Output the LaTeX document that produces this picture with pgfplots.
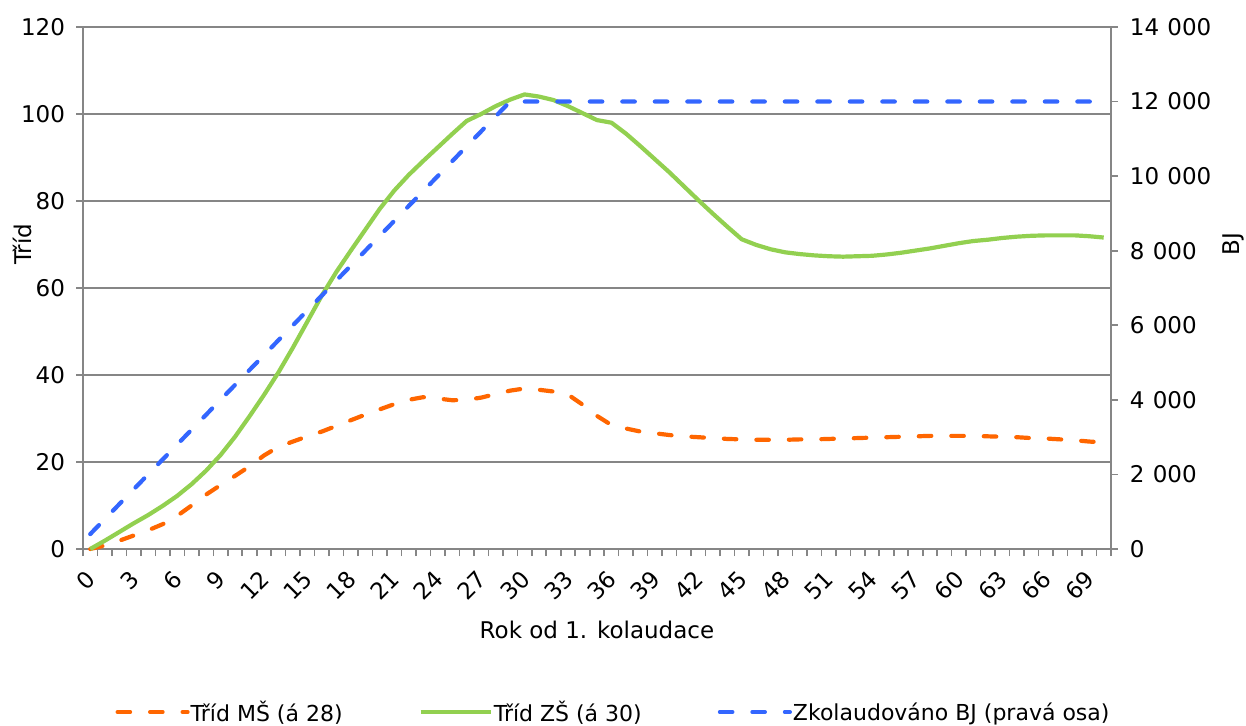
\documentclass[border=0pt]{standalone}
\usepackage{fontspec}
\setmainfont{DejaVu Sans}
\usepackage{pgfplots}
\pgfplotsset{compat=1.18}
\usepackage{pgfplotstable}
\definecolor{cMS}{RGB}{255,102,0}
\definecolor{cZS}{RGB}{146,208,80}
\definecolor{cBJ}{RGB}{51,102,255}
\definecolor{cGrid}{RGB}{134,134,134}

\pgfplotstableread{
x ms zs
0 0.0 0.0
1 0.8 1.9
2 1.9 3.9
3 3.1 5.9
4 4.3 7.8
5 5.7 9.9
6 7.6 12.2
7 10.0 14.9
8 12.5 18.0
9 14.7 21.6
10 16.8 25.8
11 19.0 30.5
12 21.5 35.4
13 23.5 40.6
14 24.7 46.3
15 25.9 52.3
16 27.0 58.3
17 28.3 63.7
18 29.6 68.6
19 30.9 73.4
20 32.1 78.2
21 33.3 82.4
22 34.3 86.0
23 34.9 89.2
24 34.6 92.3
25 34.2 95.4
26 34.3 98.4
27 34.8 100.0
28 35.6 101.8
29 36.4 103.3
30 36.9 104.5
31 36.6 104.0
32 36.2 103.2
33 35.5 101.8
34 33.2 100.2
35 30.6 98.6
36 28.5 98.0
37 27.7 95.5
38 27.0 92.6
39 26.6 89.6
40 26.2 86.6
41 25.9 83.4
42 25.7 80.2
43 25.5 77.1
44 25.3 74.1
45 25.2 71.2
46 25.1 69.9
47 25.1 68.9
48 25.1 68.2
49 25.2 67.8
50 25.2 67.5
51 25.3 67.3
52 25.4 67.2
53 25.5 67.3
54 25.6 67.4
55 25.7 67.7
56 25.8 68.1
57 25.9 68.6
58 26.0 69.1
59 26.0 69.7
60 26.0 70.3
61 26.0 70.8
62 25.9 71.1
63 25.8 71.5
64 25.7 71.8
65 25.5 72.0
66 25.4 72.1
67 25.2 72.1
68 25.0 72.1
69 24.7 71.9
70 24.5 71.6
}\dataT

\pgfplotstableread{
x bj
0 400
1 800
2 1200
3 1600
4 2000
5 2400
6 2800
7 3200
8 3600
9 4000
10 4400
11 4800
12 5200
13 5600
14 6000
15 6400
16 6800
17 7200
18 7600
19 8000
20 8400
21 8800
22 9200
23 9600
24 10000
25 10400
26 10800
27 11200
28 11600
29 12000
30 12000
35 12000
40 12000
45 12000
50 12000
55 12000
60 12000
65 12000
70 12000
}\bjT

\tikzset{
  msstyle/.style={cMS, line width=4.2pt, line cap=round, dash pattern=on 12.5pt off 20pt},
  zsstyle/.style={cZS, line width=4.2pt, line join=round},
  bjstyle/.style={cBJ, line width=4.2pt, line cap=round, dash pattern=on 12.5pt off 20pt},
}
\newcommand{\ths}{\hspace{0.36em}}

\begin{document}
\begin{tikzpicture}[font=\fontsize{23}{27}\selectfont]
\path[use as bounding box] (0,0) rectangle (1246pt,725pt);
\begin{axis}[
  at={(83pt,176pt)}, anchor=south west,
  scale only axis, width=1028pt, height=522pt,
  xmin=-0.5, xmax=70.5, ymin=0, ymax=120,
  clip=false,
  axis x line*=bottom, axis y line*=left,
  axis line style={cGrid, line width=1.6pt, -},
  tick align=outside,
  major tick length=7pt, minor tick length=7pt,
  tick style={cGrid, line width=1.6pt},
  major x tick style={draw=none},
  xtick={0,3,...,69},
  xticklabels={0,3,6,9,12,15,18,21,24,27,30,33,36,39,42,45,48,51,54,57,60,63,66,69},
  minor xtick={-0.5,0.5,...,70.5},
  xticklabel style={yshift=-19pt, xshift=1pt, rotate=45, anchor=east, inner sep=0pt},
  ytick={0,20,...,120},
  yticklabels={0,20,40,60,80,100,120},
  yticklabel style={xshift=-7.5pt},
  ymajorgrids,
  grid style={cGrid, line width=1.6pt},
  xlabel={Rok od 1. kolaudace},
  every axis x label/.style={at={(axis description cs:0.5,-0.155)}, anchor=center},
  ylabel={Tříd},
  every axis y label/.style={at={(axis description cs:-0.0593,0.584)}, anchor=center, rotate=90},
  legend columns=3,
  legend style={draw=none, fill=none, at={(axis description cs:0.5156,-0.3123)}, anchor=center,
    font=\fontsize{22}{26}\selectfont,
    nodes={inner sep=1pt},
    /tikz/every even column/.append style={column sep=75pt}},
  legend image code/.code={\draw[#1] (0pt,0pt) -- (70pt,0pt);},
]
\addplot[msstyle] table[x=x, y=ms] {\dataT};
\addlegendentry{Tříd MŠ (á 28)}
\addplot[zsstyle] table[x=x, y=zs] {\dataT};
\addlegendentry{Tříd ZŠ (á 30)}
\addlegendimage{bjstyle}
\addlegendentry{Zkolaudováno BJ (pravá osa)}
\end{axis}
\begin{axis}[
  at={(83pt,176pt)}, anchor=south west,
  scale only axis, width=1028pt, height=522pt,
  xmin=-0.5, xmax=70.5, ymin=0, ymax=14000,
  clip=false,
  scaled y ticks=false,
  axis x line=none, axis y line*=right,
  axis line style={cGrid, line width=1.6pt, -},
  tick align=outside,
  major tick length=7pt,
  tick style={cGrid, line width=1.6pt},
  ytick={0,2000,...,14000},
  yticklabels={0,2\ths000,4\ths000,6\ths000,8\ths000,10\ths000,12\ths000,14\ths000},
  yticklabel style={xshift=8.5pt},
  ylabel={BJ},
  every axis y label/.style={at={(axis description cs:1.1187,0.584)}, anchor=center, rotate=90},
]
\addplot[bjstyle] table[x=x, y=bj] {\bjT};
\end{axis}
\end{tikzpicture}
\end{document}
